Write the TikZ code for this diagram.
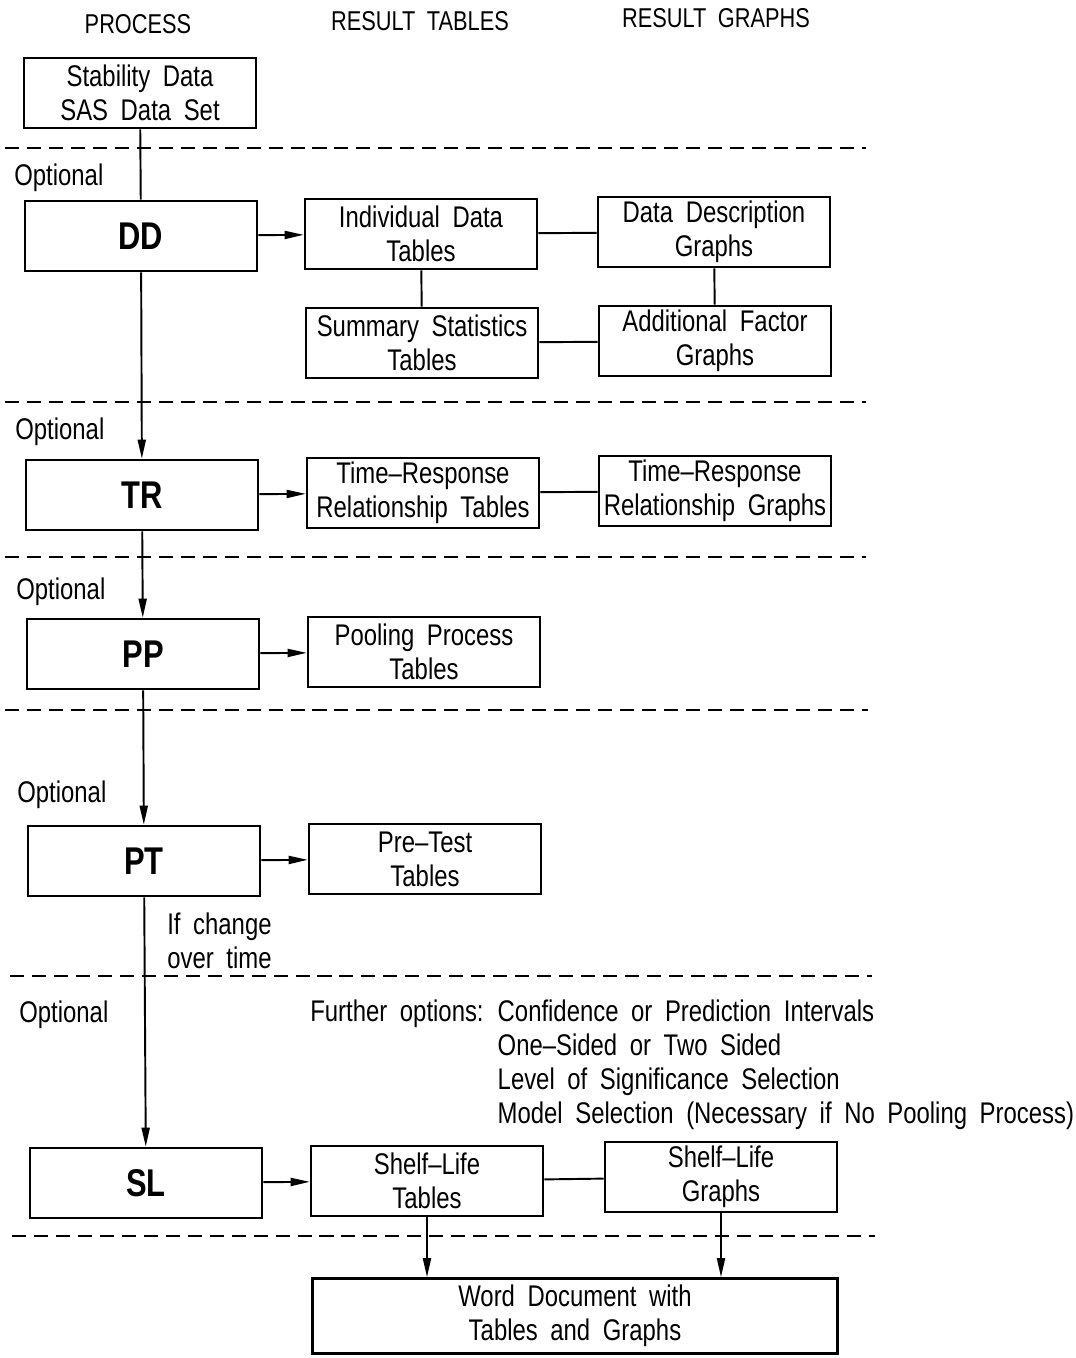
\documentclass[tikz,border=0pt]{standalone}
\usepackage{fontspec}
\setmainfont{Liberation Sans}[FakeStretch=0.8, WordSpace=1.9]
\usetikzlibrary{arrows.meta}

\begin{document}
\begin{tikzpicture}[x=0.02cm, y=-0.02cm, >={Triangle[length=3.8mm, width=1.6mm]},
  every node/.style={font=\fontsize{17}{19.4}\selectfont},
  procbox/.style={draw, line width=1.5pt, minimum width=4.64cm, minimum height=1.4cm, inner sep=0pt, align=center},
  keybox/.style={procbox, font=\fontsize{22}{24}\selectfont\bfseries},
  colhead/.style={font=\fontsize{15.5}{18}\selectfont},
  link/.style={line width=1.1pt},
  sepline/.style={line width=0.9pt, dash pattern=on 8pt off 4.5pt}]
  \useasboundingbox (0,0) rectangle (1075,1358);
  % column headings
  \node[colhead] (hproc) at (138,24) {PROCESS};
  \node[colhead] (htab) at (420,21) {RESULT TABLES};
  \node[colhead] (hgraph) at (716,18) {RESULT GRAPHS};
  % process column
  \node[procbox] (stab) at (140,93) {Stability Data\\SAS Data Set};
  \node[keybox] (dd) at (141,236) {DD};
  \node[keybox] (tr) at (142,495) {TR};
  \node[keybox] (pp) at (143,654) {PP};
  \node[keybox] (pt) at (144,861) {PT};
  \node[keybox] (sl) at (146,1183) {SL};
  % result tables
  \node[procbox] (idt) at (421,234) {Individual Data\\Tables};
  \node[procbox] (sst) at (422,343) {Summary Statistics\\Tables};
  \node[procbox] (trt) at (423,493) {Time--Response\\Relationship Tables};
  \node[procbox] (ppt) at (424,652) {Pooling Process\\Tables};
  \node[procbox] (ptt) at (425,859) {Pre--Test\\Tables};
  \node[procbox] (slt) at (427,1181) {Shelf--Life\\Tables};
  % result graphs
  \node[procbox] (ddg) at (714,232) {Data Description\\Graphs};
  \node[procbox] (afg) at (715,341) {Additional Factor\\Graphs};
  \node[procbox] (trg) at (715,491) {Time--Response\\Relationship Graphs};
  \node[procbox] (slg) at (721,1177) {Shelf--Life\\Graphs};
  \node[procbox, minimum width=10.5cm, minimum height=1.5cm] (word) at (575,1316) {Word Document with\\Tables and Graphs};
  % stage separators
  \foreach \yy/\xa/\xb in {148/5/866, 402/5/866, 557/5/866, 710/5/868, 976/10/872, 1236/12/875}
    \draw[sepline] (\xa,\yy) -- (\xb,\yy);
  \foreach \yy/\xa in {178/14, 432/15, 592/16, 795/17, 1015/19}
    \node[anchor=west, inner sep=0pt] at (\xa,\yy) {Optional};
  % process flow
  \draw[link] (stab) -- (dd);
  \draw[link, ->] (dd) -- (tr);
  \draw[link, ->] (tr) -- (pp);
  \draw[link, ->] (pp) -- (pt);
  \draw[link, ->] (pt) -- (sl);
  \node[anchor=west, align=left, inner sep=0pt] (cond) at (167,941) {If change\\over time};
  % outputs
  \draw[link, ->] (dd) -- (idt);
  \draw[link, ->] (tr) -- (trt);
  \draw[link, ->] (pp) -- (ppt);
  \draw[link, ->] (pt) -- (ptt);
  \draw[link, ->] (sl) -- (slt);
  \draw[link] (idt) -- (ddg);
  \draw[link] (idt) -- (sst);
  \draw[link] (ddg) -- (afg);
  \draw[link] (sst) -- (afg);
  \draw[link] (trt) -- (trg);
  \draw[link] (slt) -- (slg);
  \draw[link, ->] (slt.south) -- (slt.south |- word.north);
  \draw[link, ->] (slg.south) -- (slg.south |- word.north);
  % further options
  \node[anchor=north west, inner sep=0pt] (further) at (310,997) {%
    \begin{tabular}{@{}l@{\hspace{8pt}}l@{}}
      Further options: & Confidence or Prediction Intervals\\
      & One--Sided or Two Sided\\
      & Level of Significance Selection\\
      & Model Selection (Necessary if No Pooling Process)
    \end{tabular}};
\end{tikzpicture}
\end{document}
